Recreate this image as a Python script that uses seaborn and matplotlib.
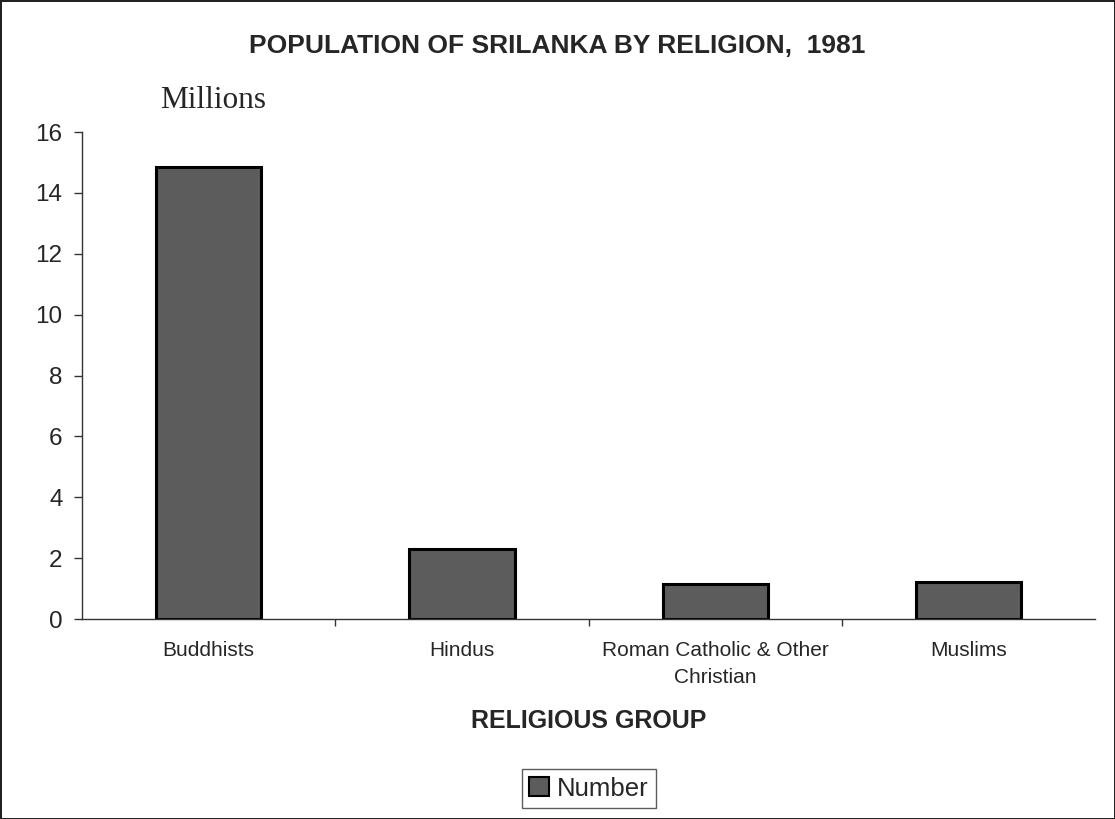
import matplotlib
matplotlib.use("Agg")
import matplotlib.pyplot as plt
import seaborn as sns
import pandas as pd
from matplotlib.patches import Patch

# data (millions)
groups = ["Buddhists", "Hindus", "Roman Catholic & Other\nChristian", "Muslims"]
population = [14.85, 2.3, 1.15, 1.2]
yticks = [0, 2, 4, 6, 8, 10, 12, 14, 16]

sns.set_style("white")
plt.rcParams["font.family"] = ["Liberation Sans", "DejaVu Sans"]

df = pd.DataFrame({"group": groups, "millions": population})

fig = plt.figure(figsize=(11.15, 8.19), dpi=100)
fig.patch.set_edgecolor("#222222")
fig.patch.set_linewidth(2)
ax = fig.add_axes([0.0735, 0.2442, 0.9090, 0.5946])

sns.barplot(data=df, x="group", y="millions", color="#5c5c5c", width=0.415,
            edgecolor="black", linewidth=2.2, saturation=1, ax=ax)

ax.set_ylim(0, 16)
ax.set_xlim(-0.5, 3.5)
ax.set_yticks(yticks)
ax.tick_params(axis="y", labelsize=17.5, length=6, width=1, direction="out", left=True,
               pad=8, color="#333333")
ax.tick_params(axis="x", which="major", labelsize=15, length=0, pad=16)
for lab in ax.get_xticklabels():
    lab.set_linespacing(1.5)
ax.set_xticks([0.5, 1.5, 2.5], minor=True)
ax.tick_params(axis="x", which="minor", length=5, width=1, direction="out", bottom=True,
               color="#333333")
ax.set_xlabel("RELIGIOUS GROUP", fontsize=18, fontweight="bold", va="baseline")
ax.xaxis.set_label_coords(0.5, -0.224)
ax.set_ylabel("")
for s in ["top", "right"]:
    ax.spines[s].set_visible(False)
for s in ["left", "bottom"]:
    ax.spines[s].set_color("#333333")
    ax.spines[s].set_linewidth(1)

fig.text(0.5, 0.944, "POPULATION OF SRILANKA BY RELIGION,  1981", ha="center", va="center",
         fontsize=19, fontweight="bold")
fig.text(0.1435, 0.868, "Millions", ha="left", va="baseline", fontsize=22.5,
         family=["Liberation Serif", "DejaVu Serif"])

handles = [Patch(facecolor="#5c5c5c", edgecolor="black", linewidth=1.5, label="Number")]
fig.legend(handles=handles, loc="center", bbox_to_anchor=(0.528, 0.037), fontsize=18.5,
           frameon=True, fancybox=False, edgecolor="#333333", handlelength=0.75,
           handleheight=0.75, handletextpad=0.3, borderpad=0.3)

fig.savefig("out.png", dpi=100)
